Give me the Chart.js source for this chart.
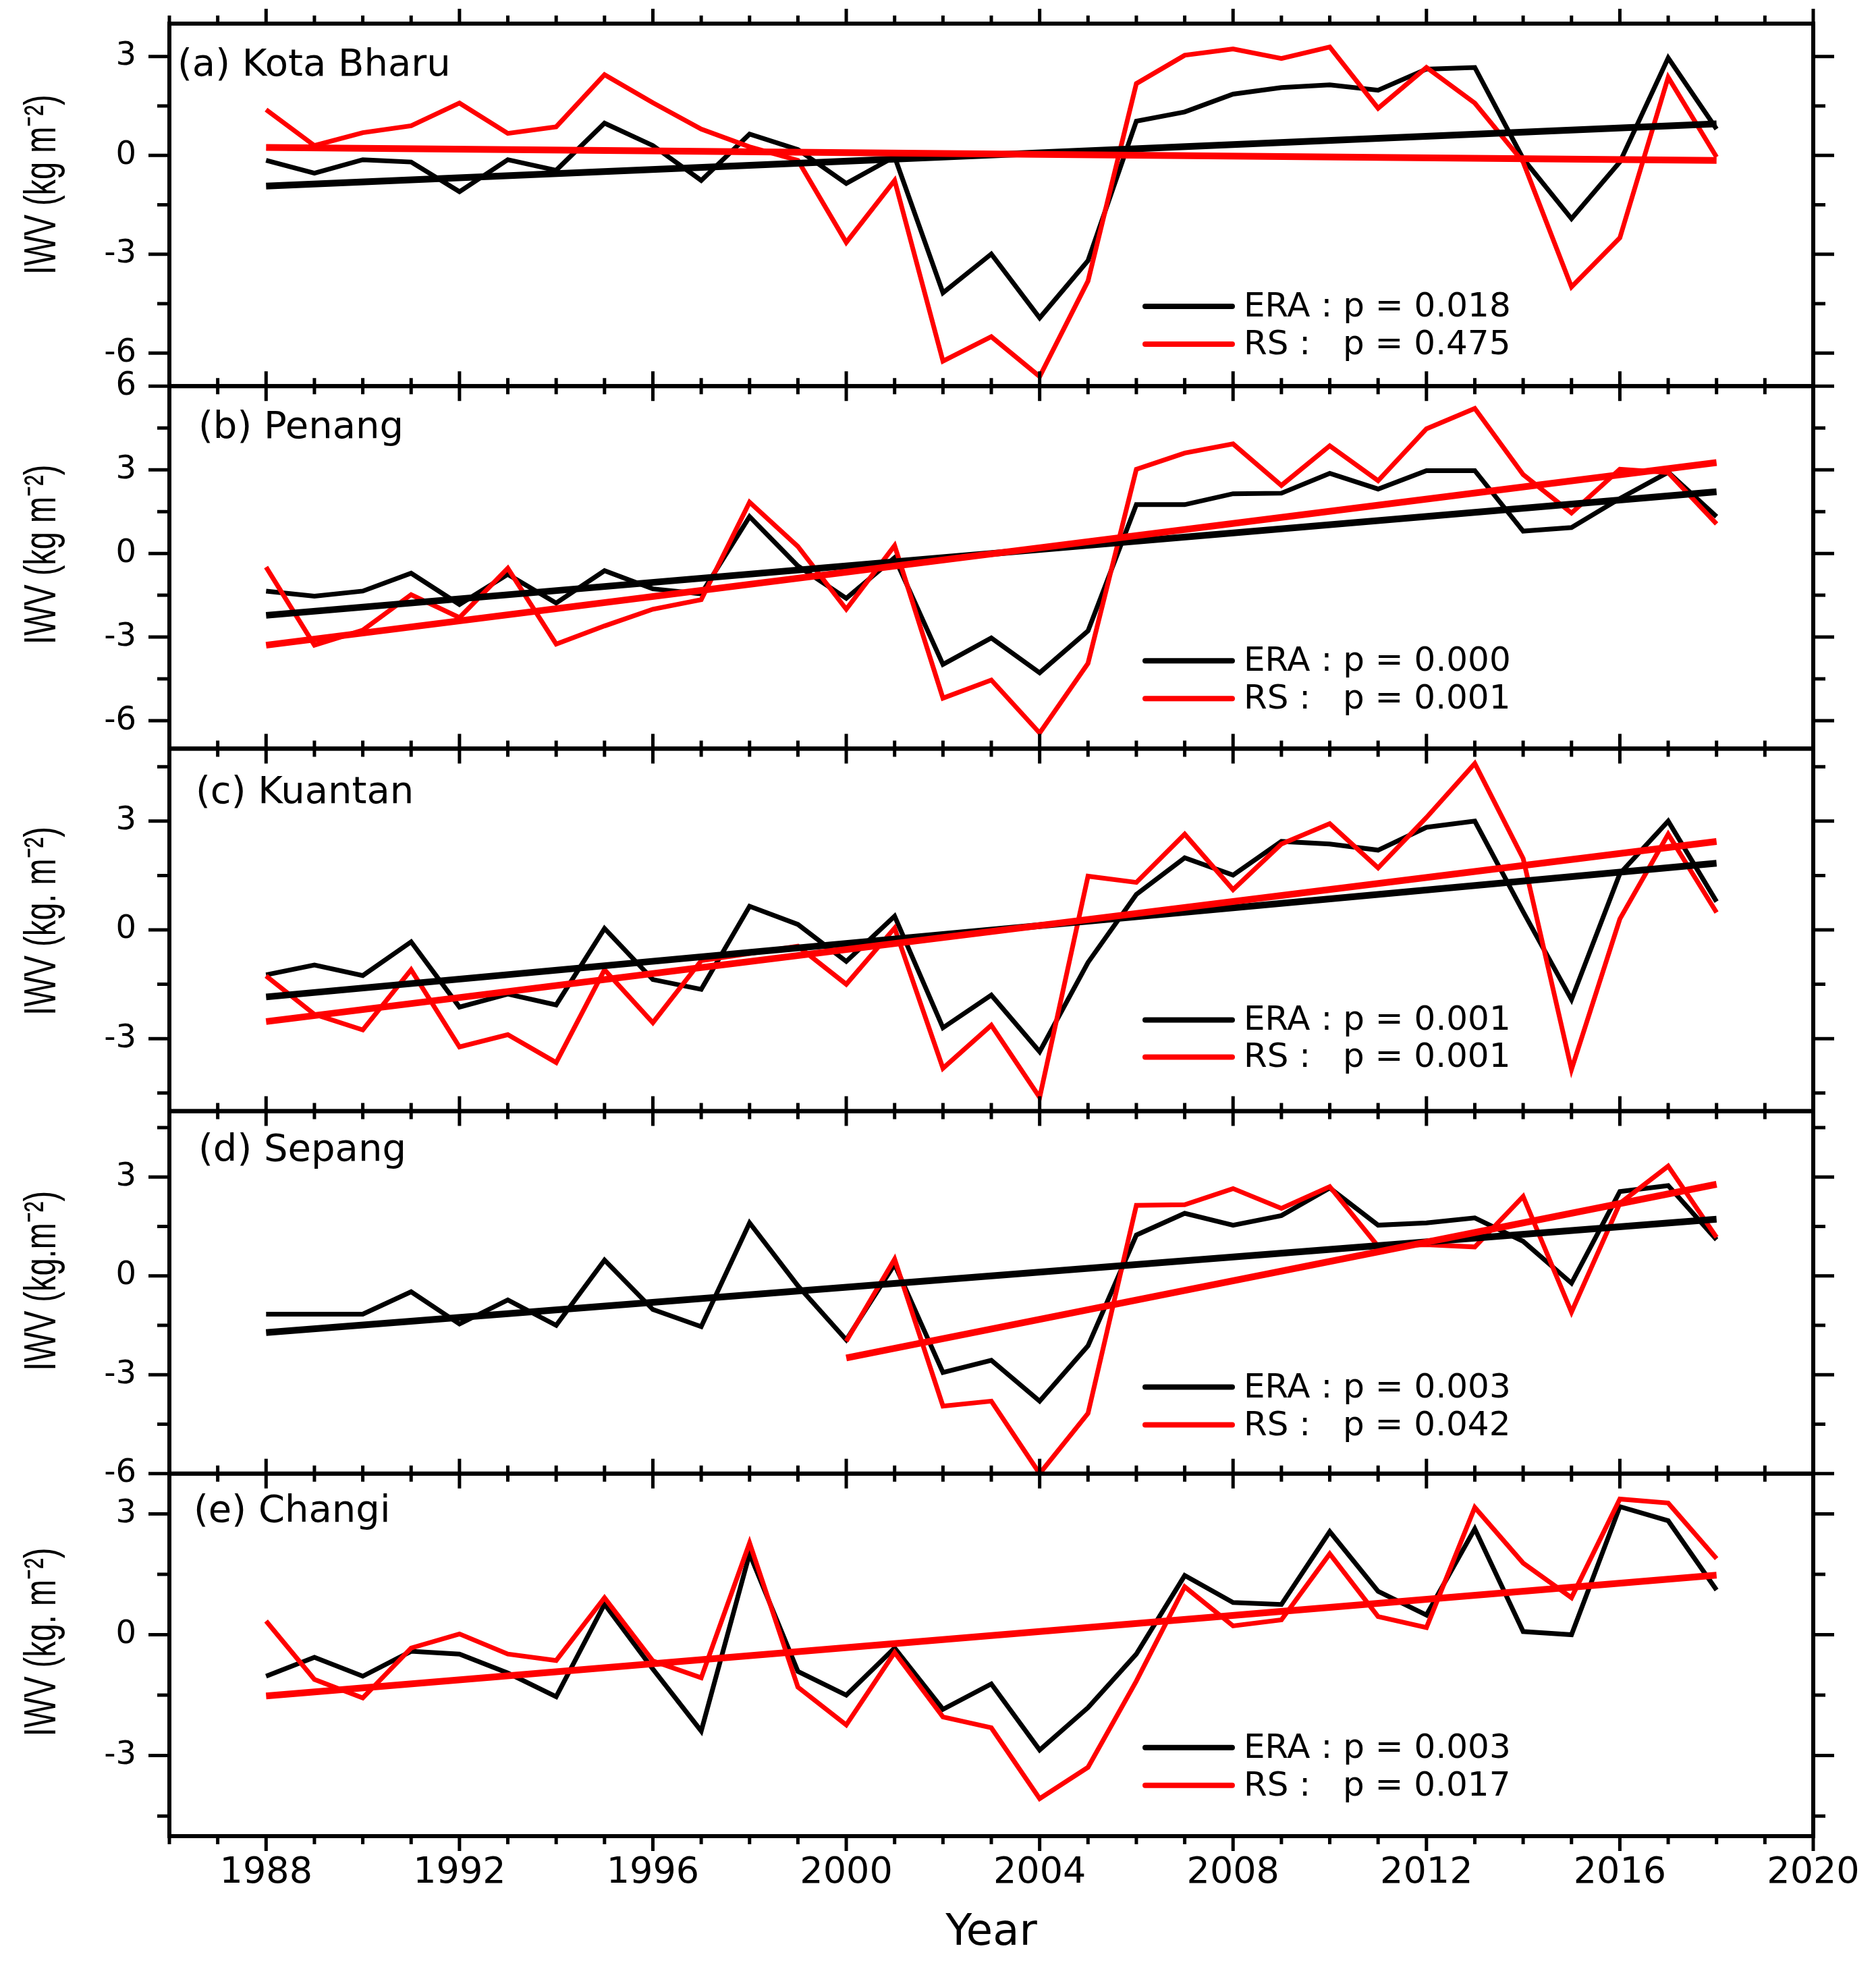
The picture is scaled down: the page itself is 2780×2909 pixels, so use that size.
<!DOCTYPE html>
<html>
<head>
<meta charset="utf-8">
<title>IWV anomalies</title>
<script src="https://cdn.jsdelivr.net/npm/chart.js@4.4.1/dist/chart.umd.min.js"></script>
<style>
  html, body { margin: 0; padding: 0; background: #fff; }
  canvas { display: block; }
</style>
</head>
<body>
<canvas id="iwvChart" width="2780" height="2909"></canvas>
<script>
// Years on the x axis
const years = [1988, 1989, 1990, 1991, 1992, 1993, 1994, 1995, 1996, 1997, 1998, 1999, 2000,
  2001, 2002, 2003, 2004, 2005, 2006, 2007, 2008, 2009, 2010, 2011, 2012, 2013, 2014, 2015,
  2016, 2017, 2018];
const xLabelYears = [1988, 1992, 1996, 2000, 2004, 2008, 2012, 2016, 2020];

// (a) Kota Bharu
const eraA = [-0.15, -0.54, -0.13, -0.2, -1.1, -0.13, -0.45, 0.98, 0.3, -0.76, 0.65, 0.18, -0.85,
  -0.04, -4.17, -2.99, -4.93, -3.19, 1.04, 1.32, 1.86, 2.06, 2.14, 1.98, 2.62, 2.67, -0.1, -1.92,
  -0.2, 2.96, 0.8];
const rsA = [1.39, 0.3, 0.69, 0.9, 1.59, 0.67, 0.87, 2.45, 1.6, 0.8, 0.26, -0.15, -2.64,
  -0.76, -6.24, -5.5, -6.71, -3.81, 2.18, 3.04, 3.23, 2.94, 3.29, 1.43, 2.67, 1.59, -0.2, -3.99,
  -2.5, 2.37, -0.05];
const eraTrendA = [-0.93, 0.96];
const rsTrendA = [0.24, -0.15];

// (b) Penang
const eraB = [-1.35, -1.53, -1.35, -0.71, -1.83, -0.75, -1.78, -0.62, -1.27, -1.45, 1.32, -0.45, -1.61,
  -0.15, -3.98, -3.03, -4.28, -2.78, 1.75, 1.75, 2.14, 2.16, 2.87, 2.31, 2.97, 2.97, 0.8, 0.93,
  1.97, 2.91, 1.32];
const rsB = [-0.49, -3.29, -2.75, -1.48, -2.3, -0.53, -3.25, -2.6, -2.0, -1.66, 1.84, 0.25, -2.0,
  0.28, -5.19, -4.54, -6.44, -3.94, 3.02, 3.6, 3.93, 2.44, 3.86, 2.61, 4.47, 5.2, 2.83, 1.45,
  3.02, 2.9, 1.06];
const eraTrendB = [-2.22, 2.21];
const rsTrendB = [-3.29, 3.26];

// (c) Kuantan
const eraC = [-1.24, -0.97, -1.26, -0.33, -2.13, -1.77, -2.07, 0.04, -1.37, -1.64, 0.65, 0.15, -0.87,
  0.38, -2.7, -1.8, -3.36, -0.9, 0.98, 1.99, 1.51, 2.44, 2.37, 2.2, 2.83, 3.0, 0.5, -1.92,
  1.55, 3.0, 0.78];
const rsC = [-1.27, -2.33, -2.76, -1.1, -3.23, -2.89, -3.66, -1.1, -2.56, -0.85, -0.65, -0.45, -1.5,
  0.05, -3.82, -2.63, -4.62, 1.48, 1.31, 2.64, 1.11, 2.37, 2.93, 1.71, 3.1, 4.59, 1.97, -3.85,
  0.3, 2.64, 0.48];
const eraTrendC = [-1.85, 1.84];
const rsTrendC = [-2.53, 2.44];

// (d) Sepang (no RS data before 2000)
const eraD = [-1.16, -1.16, -1.16, -0.48, -1.46, -0.73, -1.5, 0.48, -1.02, -1.54, 1.61, -0.3, -1.94,
  0.35, -2.93, -2.56, -3.8, -2.12, 1.24, 1.9, 1.54, 1.83, 2.67, 1.54, 1.61, 1.76, 1.05, -0.22,
  2.56, 2.74, 1.1];
const rsD = [null, null, null, null, null, null, null, null, null, null, null, null, -1.98,
  0.51, -3.95, -3.8, -6.0, -4.17, 2.14, 2.16, 2.65, 2.05, 2.71, 0.9, 0.95, 0.88, 2.41, -1.1,
  2.2, 3.33, 1.17];
const eraTrendD = [-1.72, 1.72];
const rsTrendD = [-2.49, 2.78];

// (e) Changi
const eraE = [-1.03, -0.56, -1.03, -0.41, -0.48, -0.95, -1.54, 0.76, -0.85, -2.39, 2.01, -0.91, -1.5,
  -0.33, -1.85, -1.22, -2.86, -1.81, -0.48, 1.47, 0.8, 0.75, 2.56, 1.08, 0.49, 2.63, 0.08, 0.0,
  3.18, 2.83, 1.11];
const rsE = [0.34, -1.11, -1.57, -0.33, 0.02, -0.48, -0.64, 0.92, -0.65, -1.07, 2.28, -1.3, -2.24,
  -0.44, -2.04, -2.31, -4.07, -3.29, -1.15, 1.19, 0.22, 0.37, 2.01, 0.45, 0.18, 3.16, 1.78, 0.92,
  3.37, 3.27, 1.89];
const rsTrendE = [-1.52, 1.48];

// p-values shown in each legend
const eraP = ['0.018', '0.000', '0.001', '0.003', '0.003'];
const rsP = ['0.475', '0.001', '0.001', '0.042', '0.017'];

const FONT = '"DejaVu Sans", Verdana, sans-serif';
const TITLE_FONT = '"Liberation Sans", Arial, sans-serif';

// One entry per panel, top to bottom
const panels = [
  { id: 'ya', name: '(a) Kota Bharu', yTitle: 'IWV (kg m⁻²)', era: eraA, rs: rsA,
    eraTrend: eraTrendA, rsTrend: rsTrendA, rsTrendFrom: 1988, range: [-7, 4],
    nameAt: [263, 62], legendAt: [419, 475], titleShift: -30 },
  { id: 'yb', name: '(b) Penang', yTitle: 'IWV (kg m⁻²)', era: eraB, rs: rsB,
    eraTrend: eraTrendB, rsTrend: rsTrendB, rsTrendFrom: 1988, range: [-7, 6],
    nameAt: [294, 62], legendAt: [407, 463], titleShift: -19 },
  { id: 'yc', name: '(c) Kuantan', yTitle: 'IWV (kg. m⁻²)', era: eraC, rs: rsC,
    eraTrend: eraTrendC, rsTrend: rsTrendC, rsTrendFrom: 1988, range: [-5, 5],
    nameAt: [290, 66], legendAt: [402, 457], titleShift: -13 },
  { id: 'yd', name: '(d) Sepang', yTitle: 'IWV (kg.m⁻²)', era: eraD, rs: rsD,
    eraTrend: eraTrendD, rsTrend: rsTrendD, rsTrendFrom: 2000, range: [-6, 5],
    nameAt: [294, 59], legendAt: [409, 465], titleShift: -17 },
  { id: 'ye', name: '(e) Changi', yTitle: 'IWV (kg. m⁻²)', era: eraE, rs: rsE,
    eraTrend: null, rsTrend: rsTrendE, rsTrendFrom: 1988, range: [-5, 4],
    nameAt: [287, 57], legendAt: [406, 462], titleShift: -19 }
];

function majorYTicks(range) {
  const out = [];
  for (let v = Math.ceil(range[0] / 3) * 3; v <= range[1]; v += 3) out.push(v);
  return out;
}

// Build datasets
const datasets = [];
panels.forEach(p => {
  datasets.push({
    label: 'ERA', yAxisID: p.id, xAxisID: 'x', order: 4,
    data: years.map((yr, k) => ({ x: yr, y: p.era[k] })),
    borderColor: '#000000', borderWidth: 7, pointRadius: 0, fill: false, tension: 0
  });
  datasets.push({
    label: 'RS', yAxisID: p.id, xAxisID: 'x', order: 3,
    data: years.map((yr, k) => ({ x: yr, y: p.rs[k] })),
    borderColor: '#ff0000', borderWidth: 7, pointRadius: 0, fill: false, tension: 0
  });
  if (p.eraTrend) {
    datasets.push({
      label: 'ERA trend', yAxisID: p.id, xAxisID: 'x', order: 2,
      data: [{ x: years[0], y: p.eraTrend[0] }, { x: years[years.length - 1], y: p.eraTrend[1] }],
      borderColor: '#000000', borderWidth: 10, pointRadius: 0, fill: false
    });
  }
  datasets.push({
    label: 'RS trend', yAxisID: p.id, xAxisID: 'x', order: 1,
    data: [{ x: p.rsTrendFrom, y: p.rsTrend[0] }, { x: years[years.length - 1], y: p.rsTrend[1] }],
    borderColor: '#ff0000', borderWidth: 10, pointRadius: 0, fill: false
  });
});

// Scales: one shared x axis, five stacked y axes
const scales = {
  x: {
    type: 'linear', position: 'bottom', min: 1986, max: 2020,
    grid: { display: false, drawTicks: false },
    border: { display: false },
    afterBuildTicks: s => { s.ticks = xLabelYears.map(v => ({ value: v })); },
    afterFit: s => { s.height = 188; s.paddingLeft = 0; s.paddingRight = 0; },
    ticks: {
      color: '#000', padding: 23, autoSkip: false, maxRotation: 0,
      font: { family: FONT, size: 54 },
      callback: v => String(v)
    },
    title: {
      display: true, text: 'Year', color: '#000',
      font: { family: FONT, size: 64 }, padding: { top: 0, bottom: 5 }
    }
  }
};
panels.forEach((p, i) => {
  scales[p.id] = {
    type: 'linear', position: 'left', stack: 'panels', stackWeight: 1, weight: 5 - i,
    min: p.range[0], max: p.range[1],
    grid: { display: false, drawTicks: false },
    border: { display: false },
    afterBuildTicks: s => { s.ticks = majorYTicks(p.range).map(v => ({ value: v })); },
    afterFit: s => { s.width = 251; s.paddingTop = 0; s.paddingBottom = 0; },
    ticks: {
      color: '#000', padding: 49, autoSkip: false,
      font: { family: FONT, size: 48 },
      callback: v => String(v)
    },
    // the axis title is drawn by the plugin below (stretched like the original)
    title: { display: false }
  };
});

// Frames, tick marks, axis titles, panel names and legends
const framePlugin = {
  id: 'frames',
  afterDraw(chart) {
    const ctx = chart.ctx;
    const area = chart.chartArea;
    const xs = chart.scales.x;
    ctx.save();
    ctx.strokeStyle = '#000';
    panels.forEach((p, i) => {
      const s = chart.scales[p.id];
      const top = s.top, bottom = s.bottom;

      // x ticks, outward on top and bottom of every panel
      ctx.lineWidth = 5;
      ctx.beginPath();
      for (let yr = 1986; yr <= 2020; yr++) {
        const len = (yr - 1988) % 4 === 0 ? 22 : 12;
        const x = xs.getPixelForValue(yr);
        ctx.moveTo(x, top); ctx.lineTo(x, top - len);
        ctx.moveTo(x, bottom); ctx.lineTo(x, bottom + len);
      }
      // y ticks every 1.5, outward on both sides
      for (let v = Math.ceil(p.range[0] / 1.5) * 1.5; v <= p.range[1] + 1e-9; v += 1.5) {
        const len = Math.abs(v % 3) < 1e-9 ? 31 : 18;
        const y = s.getPixelForValue(v);
        ctx.moveTo(area.left, y); ctx.lineTo(area.left - len, y);
        ctx.moveTo(area.right, y); ctx.lineTo(area.right + len, y);
      }
      ctx.stroke();

      // frame
      ctx.lineWidth = 6;
      ctx.strokeRect(area.left, top, area.right - area.left, bottom - top);

      // y axis title, rotated
      ctx.save();
      ctx.translate(64, (top + bottom) / 2 + p.titleShift);
      ctx.rotate(-Math.PI / 2);
      ctx.scale(1, 1.4);
      ctx.fillStyle = '#000';
      ctx.textAlign = 'center';
      ctx.textBaseline = 'middle';
      ctx.font = '47px ' + TITLE_FONT;
      ctx.fillText(p.yTitle, 0, 0);
      ctx.restore();

      // panel name
      ctx.fillStyle = '#000';
      ctx.textAlign = 'left';
      ctx.textBaseline = 'middle';
      ctx.font = '56px ' + FONT;
      ctx.fillText(p.name, p.nameAt[0], top + p.nameAt[1]);

      // legend
      const rows = [
        { color: '#000000', text: 'ERA : p = ' + eraP[i] },
        { color: '#ff0000', text: 'RS :   p = ' + rsP[i] }
      ];
      rows.forEach((r, k) => {
        const y = top + p.legendAt[k];
        ctx.lineWidth = 8;
        ctx.lineCap = 'round';
        ctx.strokeStyle = r.color;
        ctx.beginPath();
        ctx.moveTo(1697, y); ctx.lineTo(1826, y);
        ctx.stroke();
        ctx.lineCap = 'butt';
        ctx.strokeStyle = '#000';
        ctx.font = '50px ' + FONT;
        ctx.fillText(r.text, 1843, y + 2);
      });
    });
    ctx.restore();
  }
};

Chart.defaults.color = '#000';
Chart.defaults.font.family = FONT;

new Chart(document.getElementById('iwvChart').getContext('2d'), {
  type: 'line',
  data: { datasets: datasets },
  options: {
    responsive: false,
    animation: false,
    devicePixelRatio: 1,
    layout: { padding: { top: 35, right: 93, bottom: 0, left: 0 } },
    plugins: { legend: { display: false }, tooltip: { enabled: false }, title: { display: false } },
    scales: scales
  },
  plugins: [framePlugin]
});
</script>
</body>
</html>
